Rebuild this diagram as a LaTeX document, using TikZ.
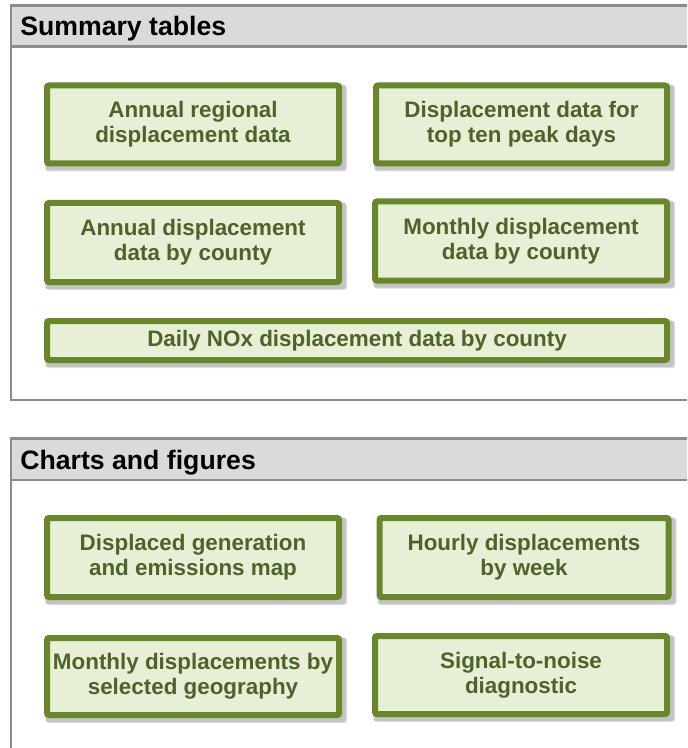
\documentclass[tikz,border=0pt]{standalone}
\usepackage{fontspec}
\setmainfont{Liberation Sans}
\usetikzlibrary{positioning}
\definecolor{boxline}{HTML}{68862A}
\definecolor{boxfill}{HTML}{E7EFD6}
\definecolor{boxtext}{HTML}{4F6328}
\definecolor{hdrfill}{HTML}{DADADA}
\definecolor{frameline}{HTML}{8C8C8C}
\tikzset{
  px/.style={x=0.75pt,y=-0.75pt},
  card/.style={draw=boxline, fill=boxfill, line width=4.5pt, rounded corners=1.5pt,
    text=boxtext, font=\bfseries\fontsize{16.8}{18.9}\selectfont, align=center,
    inner sep=0pt, outer sep=0pt},
  shade1/.style={fill=black, opacity=0.12, rounded corners=2pt},
  frame/.style={draw=frameline, line width=1.9pt},
  hdr/.style={fill=hdrfill},
  hdrtext/.style={anchor=base west, font=\bfseries\fontsize{20}{24}\selectfont, text=black, inner sep=0pt}
}
\newcommand{\cardat}[6]{% name, cx, cy, w, h, text
  \fill[shade1] (#2-#4/2+2,#3-#5/2+3) rectangle (#2+#4/2+5,#3+#5/2+5);
  \fill[shade1] (#2-#4/2+1,#3-#5/2+2) rectangle (#2+#4/2+4,#3+#5/2+4);
  \node[card, minimum width={(#4-6)*0.75pt}, minimum height={(#5-6)*0.75pt}] (#1) at (#2,#3) {#6};
}
\begin{document}
\begin{tikzpicture}[px]
\useasboundingbox (0,0) rectangle (687,748);
\clip (0,0) rectangle (687,748);
\fill[white] (0,0) rectangle (687,748);
% Summary tables frame
\fill[hdr] (11,5.5) rectangle (700,46.5);
\draw[frame] (700,5.5) -- (11,5.5) -- (11,400) -- (700,400);
\draw[frame] (11,46.5) -- (700,46.5);
\node[hdrtext] (h1) at (20,36) {Summary tables};
% Charts and figures frame
\fill[hdr] (11,438.5) rectangle (700,480);
\draw[frame] (700,438.5) -- (11,438.5) -- (11,760);
\draw[frame] (11,480) -- (700,480);
\node[hdrtext] (h2) at (20,469.5) {Charts and figures};
% cards
\cardat{b1}{193}{124.5}{298}{84}{Annual regional\\displacement data}
\cardat{b2}{521.5}{124.5}{297}{84}{Displacement data for\\top ten peak days}
\cardat{b3}{193}{242.5}{298}{85}{Annual displacement\\data by county}
\cardat{b4}{521}{241}{298}{85}{Monthly displacement\\data by county}
\cardat{b5}{357}{340.5}{626}{45}{Daily NOx displacement data by county}
\cardat{b6}{193}{557.5}{298}{85}{Displaced generation\\and emissions map}
\cardat{b7}{524}{557.5}{295}{85}{Hourly displacements\\by week}
\cardat{b8}{193}{676.5}{298}{83}{Monthly displacements by\\selected geography}
\cardat{b9}{521}{675}{298}{84}{Signal-to-noise\\diagnostic}
\end{tikzpicture}
\end{document}
